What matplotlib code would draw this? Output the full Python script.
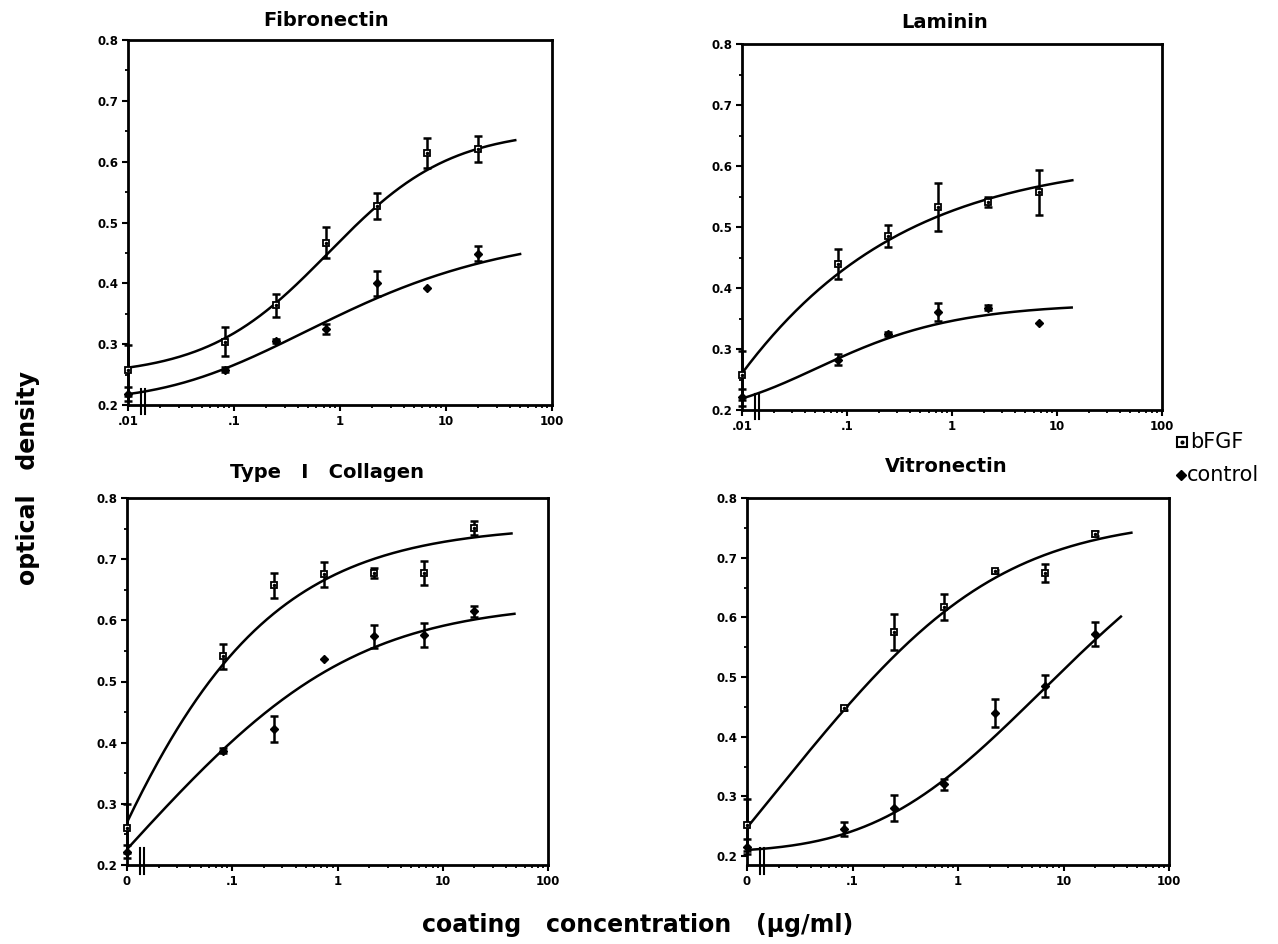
import numpy as np
import matplotlib
matplotlib.use("Agg")
import matplotlib.pyplot as plt
from matplotlib.lines import Line2D
from matplotlib.ticker import FixedLocator, NullFormatter
import matplotlib.transforms as mtransforms

# coating concentrations (ug/ml); the "0" well is drawn at .01
conc = [0.01, 0.0823, 0.247, 0.741, 2.22, 6.67, 20]

# optical density, mean and error
fn_bfgf = [0.257, 0.304, 0.364, 0.467, 0.527, 0.614, 0.621]
fn_bfgf_err = [0.042, 0.024, 0.019, 0.025, 0.021, 0.025, 0.022]
fn_ctrl = [0.218, 0.258, 0.305, 0.325, 0.400, 0.393, 0.449]
fn_ctrl_err = [0.012, 0.004, 0.003, 0.008, 0.021, 0.0, 0.012]

ln_bfgf = [0.257, 0.439, 0.486, 0.533, 0.541, 0.557]
ln_bfgf_err = [0.040, 0.025, 0.018, 0.039, 0.008, 0.037]
ln_ctrl = [0.221, 0.282, 0.325, 0.361, 0.368, 0.343]
ln_ctrl_err = [0.014, 0.009, 0.003, 0.015, 0.004, 0.0]

co_bfgf = [0.260, 0.541, 0.657, 0.675, 0.677, 0.677, 0.751]
co_bfgf_err = [0.040, 0.021, 0.021, 0.021, 0.008, 0.020, 0.011]
co_ctrl = [0.222, 0.387, 0.422, 0.536, 0.574, 0.576, 0.615]
co_ctrl_err = [0.010, 0.004, 0.021, 0.0, 0.019, 0.019, 0.009]

vn_bfgf = [0.252, 0.448, 0.575, 0.617, 0.677, 0.675, 0.740]
vn_bfgf_err = [0.044, 0.004, 0.030, 0.022, 0.003, 0.015, 0.004]
vn_ctrl = [0.216, 0.245, 0.280, 0.320, 0.440, 0.485, 0.572]
vn_ctrl_err = [0.012, 0.012, 0.022, 0.009, 0.024, 0.018, 0.020]

# fitted curves: y = lo + D / (1 + exp(-(log10 x - c) / s)) ** m, drawn up to x_end
fn_bfgf_fit = dict(lo=0.2468, D=0.4066, c=-0.110, s=0.575, m=1.0, x_end=45)
fn_ctrl_fit = dict(lo=0.2069, D=0.2819, c=-2.100, s=1.100, m=5.0, x_end=50)
ln_bfgf_fit = dict(lo=-6.5687, D=7.1832, c=-3.650, s=1.325, m=0.2, x_end=14)
ln_ctrl_fit = dict(lo=0.1964, D=0.1784, c=-2.500, s=0.750, m=5.0, x_end=13.8)
co_bfgf_fit = dict(lo=-2.8084, D=3.5644, c=-2.100, s=0.925, m=0.229, x_end=45)
co_ctrl_fit = dict(lo=-0.8361, D=1.4657, c=-0.750, s=0.900, m=0.2, x_end=48)
vn_bfgf_fit = dict(lo=-0.8274, D=1.5951, c=-0.450, s=0.850, m=0.2, x_end=44)
vn_ctrl_fit = dict(lo=0.2056, D=0.6733, c=-1.300, s=1.300, m=5.0, x_end=35)

titles = ["Fibronectin", "Laminin", "Type   I   Collagen", "Vitronectin"]
x_ticklabels_top = [".01", ".1", "1", "10", "100"]
x_ticklabels_bottom = ["0", ".1", "1", "10", "100"]

panels = [
    (fn_bfgf, fn_bfgf_err, fn_ctrl, fn_ctrl_err, fn_bfgf_fit, fn_ctrl_fit),
    (ln_bfgf, ln_bfgf_err, ln_ctrl, ln_ctrl_err, ln_bfgf_fit, ln_ctrl_fit),
    (co_bfgf, co_bfgf_err, co_ctrl, co_ctrl_err, co_bfgf_fit, co_ctrl_fit),
    (vn_bfgf, vn_bfgf_err, vn_ctrl, vn_ctrl_err, vn_bfgf_fit, vn_ctrl_fit),
]

W, H = 1278, 944
fig = plt.figure(figsize=(12.78, 9.44), dpi=100)
plt.rcParams["font.family"] = "DejaVu Sans"


def add_ax(l, r, t, b):
    return fig.add_axes([l / W, 1 - b / H, (r - l) / W, (b - t) / H])


def curve(p):
    u = np.linspace(-2, np.log10(p["x_end"]), 300)
    y = p["lo"] + p["D"] / (1 + np.exp(-(u - p["c"]) / p["s"])) ** p["m"]
    return 10 ** u, y


def points(ax, y, err, kind):
    n = len(y)
    x = np.array(conc[:n])
    y = np.array(y)
    err = np.array(err)
    ok = err > 0
    ax.errorbar(x[ok], y[ok], yerr=err[ok], fmt="none", ecolor="k",
                elinewidth=1.8, capsize=3, capthick=1.8, clip_on=False, zorder=3)
    if kind == "b":
        ax.plot(x, y, "s", ms=5, mfc="white", mec="k", mew=1.3, clip_on=False, zorder=4)
        ax.plot(x, y, "o", ms=1.5, color="k", clip_on=False, zorder=5)
    else:
        ax.plot(x, y, "D", ms=4.5, color="k", clip_on=False, zorder=4)


boxes = [(128, 552, 40, 405), (742, 1162, 44, 410), (127, 548, 498, 865), (747, 1169, 498, 865)]
ylims = [(0.2, 0.8), (0.2, 0.8), (0.2, 0.8), (0.185, 0.8)]
title_pos = [(326, 20), (945, 22), (327, 472), (946, 467)]

for i, (box, pan) in enumerate(zip(boxes, panels)):
    yb, eb, yc, ec, fb, fc = pan
    ax = add_ax(*box)
    ax.set_xscale("log")
    ax.set_xlim(0.01, 100)
    ax.set_ylim(*ylims[i])

    for p in (fb, fc):
        cx, cy = curve(p)
        ax.plot(cx, cy, color="k", lw=1.8, zorder=2)
    points(ax, yb, eb, "b")
    points(ax, yc, ec, "c")

    # axis break marks next to the zero well
    trans = mtransforms.blended_transform_factory(ax.transData, ax.transAxes)
    for xb in (0.0132, 0.0145):
        ax.add_line(Line2D([xb, xb], [-0.025, 0.045], transform=trans, color="k",
                           lw=1.5, clip_on=False))

    ax.set_xticks([0.01, 0.1, 1, 10, 100])
    ax.set_xticklabels(x_ticklabels_top if i < 2 else x_ticklabels_bottom)
    ax.xaxis.set_minor_locator(FixedLocator(
        [k * 10.0 ** e for e in range(-2, 2) for k in range(2, 10)]))
    ax.xaxis.set_minor_formatter(NullFormatter())
    ax.set_yticks(np.round(np.arange(0.2, 0.81, 0.1), 1))
    ax.set_yticklabels(["%.1f" % v for v in np.arange(0.2, 0.81, 0.1)])
    ax.yaxis.set_minor_locator(FixedLocator(np.arange(0.25, 0.8, 0.1)))
    ax.tick_params(which="major", direction="out", length=4, width=1.5,
                   labelsize=8.5, pad=3)
    ax.tick_params(which="minor", direction="out", length=2.5, width=1.3)
    for lab in ax.get_xticklabels() + ax.get_yticklabels():
        lab.set_fontweight("bold")
    for sp in ax.spines.values():
        sp.set_linewidth(2)

    tx, ty = title_pos[i]
    fig.text(tx / W, 1 - ty / H, titles[i], ha="center", va="center",
             fontsize=14, fontweight="bold")

# shared axis labels
fig.text(28 / W, 1 - 478 / H, "optical   density", rotation=90, ha="center",
         va="center", fontsize=17, fontweight="bold")
fig.text(638 / W, 1 - 925 / H, "coating   concentration   (\u00b5g/ml)",
         ha="center", va="center", fontsize=17, fontweight="bold")

# legend
fig.add_artist(Line2D([1182 / W], [1 - 442 / H], transform=fig.transFigure, marker="s",
                      ms=7, mfc="white", mec="k", mew=1.5))
fig.add_artist(Line2D([1182 / W], [1 - 442 / H], transform=fig.transFigure, marker="o",
                      ms=2, color="k"))
fig.text(1190 / W, 1 - 442 / H, "bFGF", ha="left", va="center", fontsize=15)
fig.add_artist(Line2D([1181 / W], [1 - 475 / H], transform=fig.transFigure, marker="D",
                      ms=5.5, color="k"))
fig.text(1187 / W, 1 - 475 / H, "control", ha="left", va="center", fontsize=15)

fig.savefig("out.png", dpi=100)
